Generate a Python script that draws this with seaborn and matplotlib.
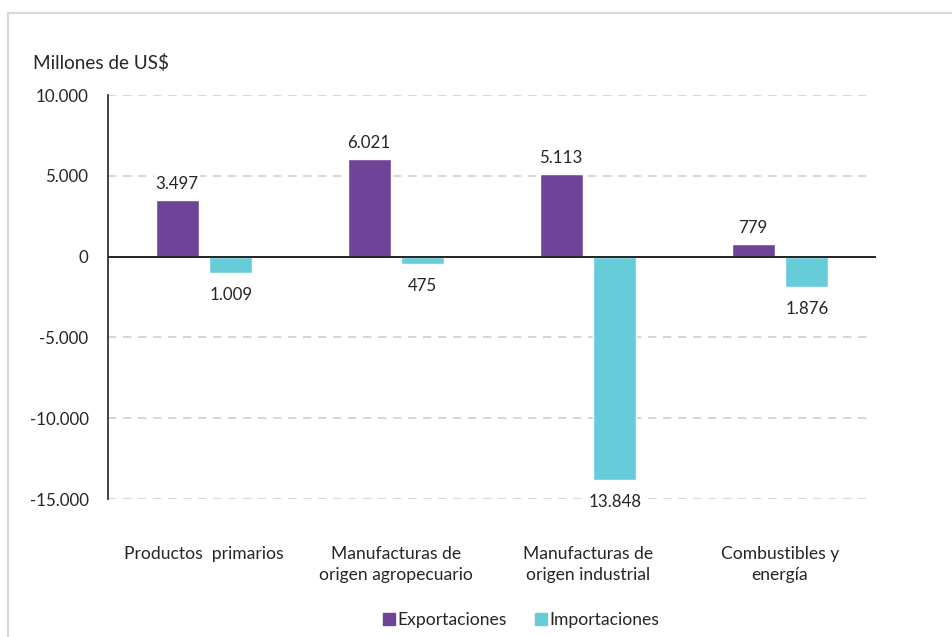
import matplotlib
matplotlib.use("Agg")
import matplotlib.pyplot as plt
from matplotlib.patches import Rectangle, Patch
import seaborn as sns
import pandas as pd
import numpy as np

categories = ["Productos  primarios", "Manufacturas de\norigen agropecuario",
              "Manufacturas de\norigen industrial", "Combustibles y\nenergía"]
exportaciones = [3497, 6021, 5113, 779]
importaciones = [1009, 475, 13848, 1876]
yticks = [-15000, -10000, -5000, 0, 5000, 10000]

purple = "#6F4398"
cyan = "#66CCD9"

sns.set_theme(style="white")
plt.rcParams["font.family"] = ["Lato", "DejaVu Sans"]

fig = plt.figure(figsize=(9.53, 6.37), dpi=100)
ax = fig.add_axes([108 / 953, 1 - 499 / 637, (876 - 108) / 953, (499 - 95) / 637])

# Exports drawn upward, imports downward (shown as negative values)
df = pd.DataFrame({
    "categoria": categories * 2,
    "serie": ["Exportaciones"] * 4 + ["Importaciones"] * 4,
    "valor": exportaciones + [-v for v in importaciones],
})
sns.barplot(data=df, x="categoria", y="valor", hue="serie",
            palette=[purple, cyan], ax=ax, width=0.56, gap=0.2,
            legend=False, saturation=1)

ax.set_xlim(-0.5, 3.5)
ax.set_ylim(-15000, 10000)
ax.set_yticks(yticks)
ax.set_yticklabels([f"{v:,}".replace(",", ".") for v in yticks], fontsize=12.2)
ax.tick_params(axis="y", length=0, pad=14)
ax.tick_params(axis="x", length=0, pad=34)
ax.set_xticks(range(4))
ax.set_xticklabels(categories, fontsize=12.6, linespacing=1.35)
ax.set_xlabel("")
ax.set_ylabel("")

for v in yticks:
    if v != 0:
        ax.axhline(v, color="#D0D0D0", lw=1.2, ls=(0, (5, 4)), zorder=0,
                   xmax=0.995)
ax.axhline(0, color="#222222", lw=1.4, zorder=3)

for s in ["top", "right", "bottom"]:
    ax.spines[s].set_visible(False)
ax.spines["left"].set_color("#222222")
ax.spines["left"].set_linewidth(1.2)

# Value labels: exports above bars, imports below bars
for cont, vals in zip(ax.containers, [exportaciones, importaciones]):
    for bar, v in zip(cont, vals):
        xc = bar.get_x() + bar.get_width() / 2
        h = bar.get_height()
        label = f"{v:,}".replace(",", ".")
        if h >= 0:
            ax.annotate(label, (xc, h), xytext=(0, 6), textcoords="offset points",
                        ha="center", va="bottom", fontsize=12.2,
                        bbox=dict(fc="white", ec="none", pad=1))
        else:
            ax.annotate(label, (xc, h), xytext=(0, -10), textcoords="offset points",
                        ha="center", va="top", fontsize=12.2,
                        bbox=dict(fc="white", ec="none", pad=1))

fig.text(33 / 953, 1 - 63 / 637, "Millones de US$", fontsize=13.6,
         ha="left", va="center")

handles = [Patch(color=purple, label="Exportaciones"),
           Patch(color=cyan, label="Importaciones")]
fig.legend(handles=handles, loc="center", bbox_to_anchor=(521 / 953, 1 - 620 / 637),
           ncol=2, frameon=False, fontsize=12.6, handlelength=0.7, handleheight=0.7,
           handletextpad=0.15, columnspacing=1.6)

fig.patches.append(Rectangle((8 / 953, -0.05), 1.2, 1 - 13 / 637 + 0.05,
                             transform=fig.transFigure, fill=False,
                             ec="#D9D9D9", lw=1.5))

fig.savefig("out.png", dpi=100, facecolor="white")
